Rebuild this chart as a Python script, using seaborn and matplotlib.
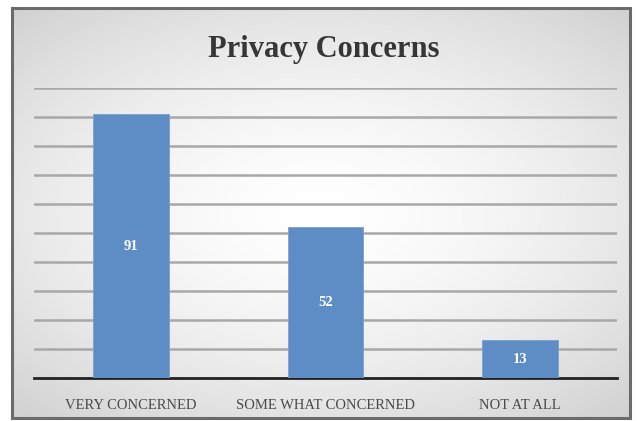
import numpy as np
import pandas as pd
import matplotlib
matplotlib.use("Agg")
import matplotlib.pyplot as plt
import seaborn as sns
from matplotlib.patches import Rectangle

categories = ["VERY CONCERNED", "SOME WHAT CONCERNED", "NOT AT ALL"]
values = [91, 52, 13]
title = "Privacy Concerns"

df = pd.DataFrame({"category": categories, "value": values})

sns.set_theme(style="white")
plt.rcParams["font.family"] = ["Liberation Serif", "DejaVu Serif"]

W, H = 642, 421
fig = plt.figure(figsize=(W / 100, H / 100), dpi=100)
fig.patch.set_facecolor("white")

# background radial gradient inside the frame
bx0, by0, bx1, by1 = 12 / W, 1 - 418 / H, 630 / W, 1 - 8 / H
bg = fig.add_axes([bx0, by0, bx1 - bx0, by1 - by0], zorder=0)
yy, xx = np.mgrid[-1:1:300j, -1:1:400j]
r = np.sqrt((xx * 0.9) ** 2 + (yy * 1.0) ** 2)
shade = 1.0 - 0.24 * np.clip(r, 0, 1.6) ** 1.6 / 1.6 ** 1.6
img = np.dstack([shade, shade, shade])
bg.imshow(np.clip(img, 0, 1), aspect="auto", extent=[0, 1, 0, 1], interpolation="bilinear")
bg.set_axis_off()
fig.patches.append(Rectangle((bx0, by0), bx1 - bx0, by1 - by0, transform=fig.transFigure,
                             fill=False, edgecolor="#6b6b6b", linewidth=2.2, zorder=5))

ax = fig.add_axes([34 / W, 1 - 378 / H, (617 - 34) / W, (378 - 88) / H], zorder=2)
ax.patch.set_alpha(0)
sns.barplot(data=df, x="category", y="value", ax=ax, color="#5e8cc5", width=0.39,
            saturation=1, edgecolor="#7aa0d0", linewidth=0.6, zorder=3)
ax.set_ylim(0, 100)
ax.set_xlim(-0.5, 2.5)
ax.set_yticks(np.arange(10, 101, 10))
ax.yaxis.grid(True, color="#a8a8a8", linewidth=1.8)
ax.set_axisbelow(True)
ax.tick_params(axis="y", left=False, labelleft=False)
ax.tick_params(axis="x", bottom=False, pad=9, labelsize=10.5, labelcolor="#4a4a4a")
for s in ["top", "right", "left"]:
    ax.spines[s].set_visible(False)
ax.spines["bottom"].set_color("#222222")
ax.spines["bottom"].set_linewidth(2)
ax.set_xlabel("")
ax.set_ylabel("")

for i, v in enumerate(values):
    ax.text(i, v / 2, str(v), ha="center", va="center", color="white",
            fontsize=10.5, fontweight="bold", zorder=4)

fig.text(324 / W, 1 - 49 / H, title, ha="center", va="center", fontsize=22,
         fontweight="bold", color="#363636", zorder=6)

fig.savefig("out.png", dpi=100)
